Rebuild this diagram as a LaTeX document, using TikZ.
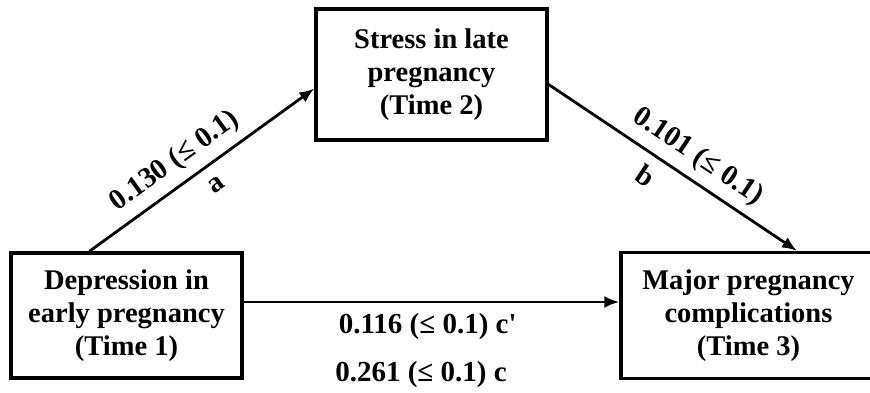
\documentclass[tikz,border=0pt]{standalone}
\usepackage{fontspec}
\setmainfont{Liberation Serif}
\usetikzlibrary{arrows.meta}
\tikzset{var/.style = {draw, line width=3.3pt, align=center, inner sep=0,
                       font=\bfseries\fontsize{28.5}{33}\selectfont}}
\tikzset{path/.style = {line width=2.8pt, -{Latex[length=15pt, width=12pt]}}}
\tikzset{coef/.style = {font=\bfseries\fontsize{29}{32}\selectfont}}

\begin{document}
\begin{tikzpicture}[x=1pt, y=1pt]
    \useasboundingbox (0, 0) rectangle (870, 392);

    \node [var, minimum width=231, minimum height=125] (dep) at (126.5, 76.5)
      {Depression in\\early pregnancy\\(Time 1)};
    \node [var, minimum width=231, minimum height=131] (stress) at (431.5, 317.5)
      {Stress in late\\pregnancy\\(Time 2)};
    \node [var, minimum width=255, minimum height=126] (major) at (748.5, 76.5)
      {Major pregnancy\\complications\\(Time 3)};

    \draw [path] ([xshift=80pt]dep.north west) -- ([yshift=-14pt]stress.west)
      node [coef, sloped, pos=0.44, above=5pt] (ca) {0.130 (≤ 0.1)}
      node [coef, sloped, pos=0.51, below=9pt] (la) {a};

    \draw [path] ([yshift=-10pt]stress.east) -- ([xshift=48.5pt]major.north)
      node [coef, sloped, pos=0.55, above=5pt] (cb) {0.101 (≤ 0.1)}
      node [coef, sloped, pos=0.44, below=7pt] (lb) {b};

    \draw [path] ([yshift=13.5pt]dep.east) -- ([yshift=13.5pt]major.west)
      node [coef, pos=0.49, below=7pt] (cc1) {0.116 (≤ 0.1) c\textquotesingle};

    \node [coef] (cc) at (421, 17) {0.261 (≤ 0.1) c};
\end{tikzpicture}
\end{document}
